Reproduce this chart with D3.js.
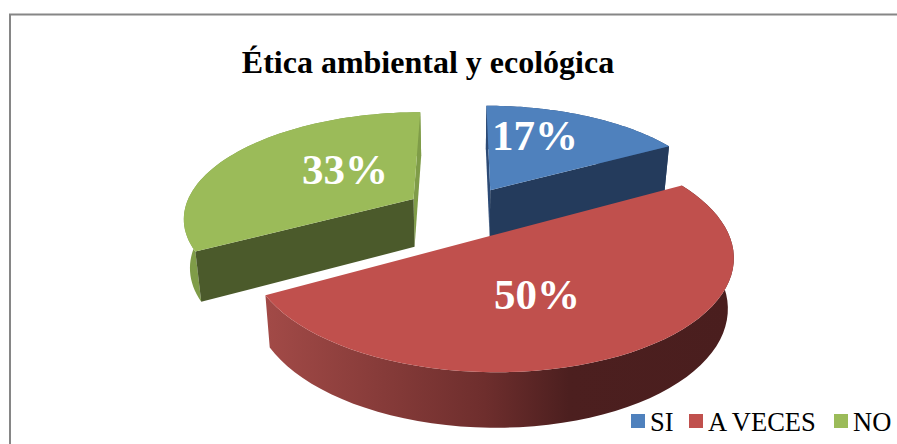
<!DOCTYPE html>
<html>
<head>
<meta charset="utf-8">
<title>Ética ambiental y ecológica</title>
<style type="text/css">
  html,body{margin:0;padding:0;background:#fff;}
  svg{display:block;}
  text{font-family:"Liberation Serif","Times New Roman",serif;}
  .title{font-weight:bold;font-size:32px;fill:#000;}
  .pct{font-weight:bold;font-size:43px;fill:#fff;}
  .legend{font-size:26.5px;fill:#000;}
</style>
</head>
<body>
<svg width="897" height="444"></svg>
<script src="https://d3js.org/d3.v7.min.js"></script>
<script type="text/javascript">
var titleText = "Ética ambiental y ecológica";
var categories = ["SI","A VECES","NO"];
var values = [17,50,33];
var colors = ["#4f81bd","#c0504d","#9bbb59"];
var wallColors = ["#243b5c","#5d2625","#4b5a2b"];
var sideColors = ["#2c4a75","#a04845","#7f9c48"];

var svg = d3.select("svg");

// marco del grafico
svg.append("rect").attr("x",10).attr("y",14.5).attr("width",900).attr("height",440)
   .attr("fill","#fff").attr("stroke","#868686").attr("stroke-width",2);

// proyeccion en perspectiva del plano de la torta
var view = {x0:462, y0:212, a:230, b:105, p:.165, explode:.25, drop:48.5, shrink:.022};

function project(u,v){
    var w = 1 + view.p*v;
    return [view.x0 + view.a*u/w, view.y0 - view.b*v/w];
}
function lower(u,v){
    var w = 1 + view.p*v, pt = project(u,v);
    return [view.x0 + (pt[0]-view.x0)*(1-view.shrink), pt[1] + view.drop/Math.pow(w,.6)];
}

var slices = d3.pie().sort(null)(values);
slices.forEach(function(d){
    var mid = (d.startAngle+d.endAngle)/2;
    d.ou = Math.sin(mid)*view.explode;
    d.ov = Math.cos(mid)*view.explode;
    d.rim = d3.range(0,1.0001,1/60).map(function(t){
        var a = d.startAngle + (d.endAngle-d.startAngle)*t;
        return [d.ou+Math.sin(a), d.ov+Math.cos(a)];
    });
});

var line = d3.line();
function flat(pts){ return pts.map(function(p){return project(p[0],p[1]);}); }
function low(pts){ return pts.map(function(p){return lower(p[0],p[1]);}); }
function wall(apex,p){
    return line([project(apex[0],apex[1]),project(p[0],p[1]),lower(p[0],p[1]),lower(apex[0],apex[1])])+"Z";
}

// degradado del borde rojo
var defs = svg.append("defs");
var grad = defs.append("linearGradient").attr("id","rimRed")
    .attr("gradientUnits","userSpaceOnUse")
    .attr("x1",266).attr("y1",0).attr("x2",732).attr("y2",0);
grad.append("stop").attr("offset","0%").style("stop-color","#a24a47");
grad.append("stop").attr("offset","47%").style("stop-color","#6e2e2d");
grad.append("stop").attr("offset","65%").style("stop-color","#4c1f1f");
grad.append("stop").attr("offset","100%").style("stop-color","#4a1e1e");

var pie3d = svg.append("g");

// atras primero: verde, azul, y el rojo encima
[2,0,1].forEach(function(i){
    var d = slices[i], g = pie3d.append("g");
    var apex = [d.ou,d.ov], first = d.rim[0], last = d.rim[d.rim.length-1];

    // borde exterior
    g.append("path").attr("fill",i==1?"url(#rimRed)":sideColors[i])
     .attr("d",line(flat(d.rim).concat(low(d.rim).reverse()))+"Z");
    // paredes de corte; las del rojo miran hacia atras y no se ven
    if(i!=1){
        // la pared oscura es la que mira al frente: final en azul, inicio en verde
        var darkEdge = i==2 ? first : last, lightEdge = i==2 ? last : first;
        g.append("path").attr("fill",sideColors[i]).attr("d",wall(apex,lightEdge));
        g.append("path").attr("fill",wallColors[i]).attr("d",wall(apex,darkEdge));
    }
    // cara superior
    g.append("path").attr("fill",colors[i])
     .attr("d",line([project(apex[0],apex[1])].concat(flat(d.rim)))+"Z");
});

// titulo
svg.append("text").attr("class","title").attr("x",428).attr("y",73)
   .attr("text-anchor","middle").text(titleText);

// porcentajes
var labelSpots = [[535,150],[537,309],[345,184]];
svg.selectAll(".pct").data(values).enter().append("text").attr("class","pct")
   .attr("text-anchor","middle")
   .attr("x",function(d,i){return labelSpots[i][0];})
   .attr("y",function(d,i){return labelSpots[i][1];})
   .text(function(d){return d+"%";});

// leyenda
var legendX = [631,689,834];
var legend = svg.append("g");
categories.forEach(function(c,i){
    legend.append("rect").attr("x",legendX[i]).attr("y",414).attr("width",14).attr("height",14).attr("fill",colors[i]);
    legend.append("text").attr("class","legend").attr("x",legendX[i]+19).attr("y",431).text(c);
});
</script>
</body>
</html>
